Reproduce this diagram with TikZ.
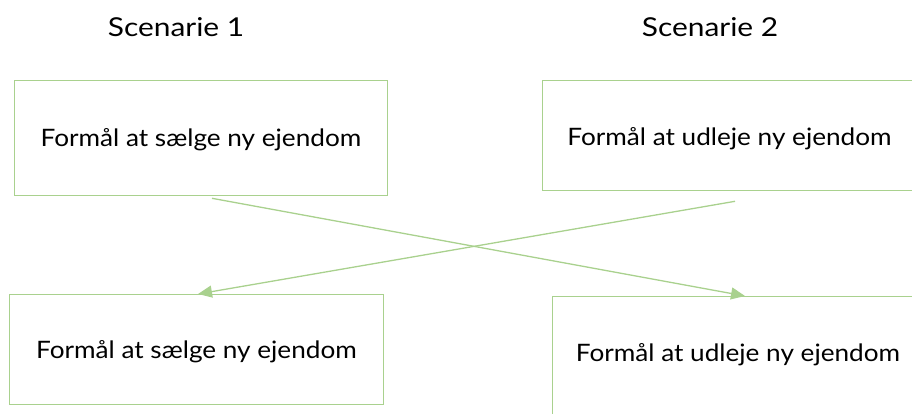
\documentclass[tikz,border=0pt]{standalone}
\usepackage{fontspec}
\setmainfont{Lato}[FakeStretch=1.09]
\newfontfamily\headfont{Lato}[FakeStretch=1.15]
\usetikzlibrary{calc,arrows.meta}
\definecolor{leaf}{HTML}{A9D18E}
\begin{document}
\begin{tikzpicture}[x=1pt,y=-1pt,
  box/.style={draw=leaf,line width=1.3pt,rectangle,inner sep=0pt,anchor=north west},
  label/.style={font=\fontsize{24}{28}\selectfont,anchor=base,inner sep=0pt},
  title/.style={font=\headfont\fontsize{26}{30}\selectfont,anchor=base,inner sep=0pt},
  link/.style={draw=leaf,line width=1.3pt,-{Triangle[length=14pt,width=12pt]}}]
\useasboundingbox (0,0) rectangle (912,413);
\clip (0,0) rectangle (912,413);

% scenario headings
\node[title] (s1) at (176,36.5) {Scenarie 1};
\node[title] (s2) at (710,36.5) {Scenarie 2};

% boxes
\node[box,minimum width=373pt,minimum height=115pt] (tl) at (14,80) {};
\node[box,minimum width=440pt,minimum height=110pt] (tr) at (542,80) {};
\node[box,minimum width=374pt,minimum height=110pt] (bl) at (9,294) {};
\node[box,minimum width=440pt,minimum height=160pt] (br) at (552,296) {};

% box texts
\node[label] (ttl) at (201,146) {Formål at sælge ny ejendom};
\node[label] (ttr) at (729.5,145) {Formål at udleje ny ejendom};
\node[label] (tbl) at (196.5,358) {Formål at sælge ny ejendom};
\node[label] (tbr) at (738,361) {Formål at udleje ny ejendom};

% crossing connectors
\coordinate (a1) at ($(tl.south west)+(198,2)$);
\coordinate (b1) at ($(br.north west)+(193,0)$);
\coordinate (a2) at ($(tr.south west)+(193,10)$);
\coordinate (b2) at ($(bl.north west)+(189,0)$);
\draw[link] (a1) -- (b1);
\draw[link] (a2) -- (b2);
\end{tikzpicture}
\end{document}
